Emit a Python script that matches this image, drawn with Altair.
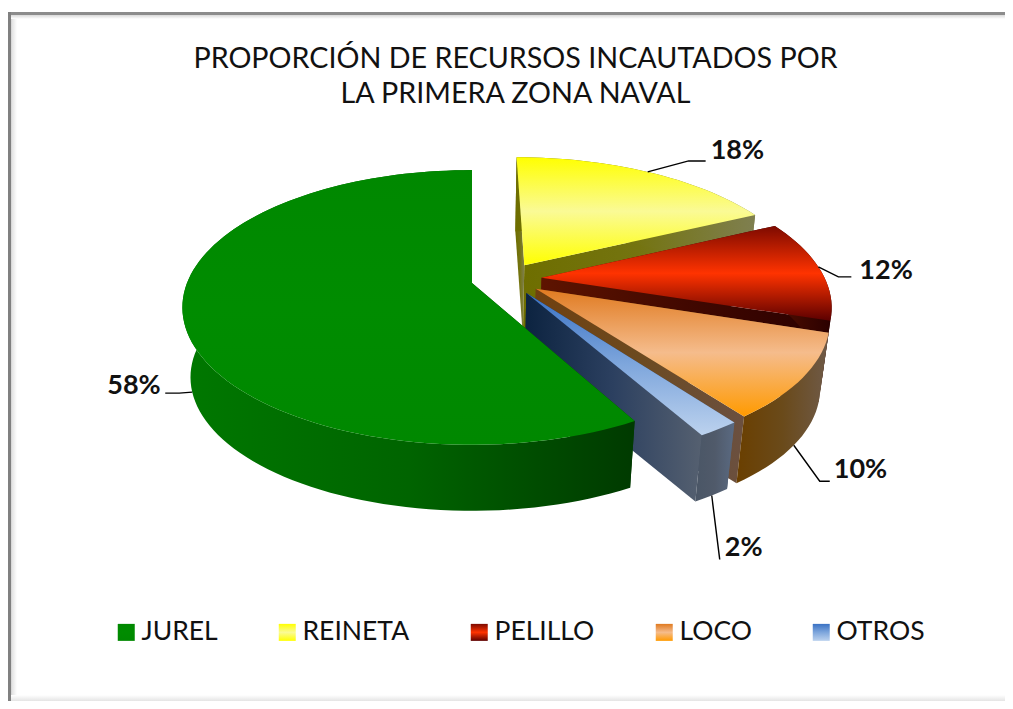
import math
import altair as alt

# ---------- values ----------
categories = ["JUREL", "REINETA", "PELILLO", "LOCO", "OTROS"]
shares = [58, 18, 12, 10, 2]
title_lines = ["PROPORCIÓN DE  RECURSOS INCAUTADOS POR", "LA PRIMERA  ZONA NAVAL"]
label_texts = ["58%", "18%", "12%", "10%", "2%"]

# ---------- look of each slice ----------
top_stops = {
    "JUREL": ["#008800", "#008c00", "#008800"],
    "REINETA": ["#ffff00", "#fafa96", "#ffff00"],
    "PELILLO": ["#7d0a00", "#ff3300", "#5c0000"],
    "LOCO": ["#e07a20", "#f5bc8c", "#ff9a00"],
    "OTROS": ["#3a72c4", "#7ea6dc", "#bcd2ee"],
}
rim_stops = {
    "JUREL": ["#007800", "#006400", "#003a00"],
    "REINETA": ["#6e6e00", "#747410", "#7f7f50"],
    "PELILLO": ["#5a1000", "#400800", "#2a0000"],
    "LOCO": ["#6a3f00", "#6a4a1a", "#6f5a48"],
    "OTROS": ["#4a5666", "#505a6a", "#5a6a82"],
}
wall_stops = {
    "JUREL": ["#003a00", "#003a00", "#003a00"],
    "REINETA": ["#6e6e00", "#747410", "#7f7f50"],
    "PELILLO": ["#5e1400", "#420800", "#2a0000"],
    "LOCO": ["#70400f", "#6c4a20", "#6b5040"],
    "OTROS": ["#0c2340", "#2c4060", "#556070"],
}
paint_order = ["REINETA", "PELILLO", "LOCO", "OTROS", "JUREL"]

# ---------- perspective of the tilted disc ----------
APEX_X, APEX_Y = 472, 283
RX, RY, P = 285, 133, 0.178
SHRINK, DROP = 0.972, 70.5
EXPLODE = 0.125
START = 151.2

angles = {}
a = START
for name, share in zip(categories, shares):
    angles[name] = (a, a + share * 3.6)
    a += share * 3.6


def unit(deg):
    r = math.radians(deg)
    return math.sin(r), -math.cos(r)


# the disc centre, seen from the first slice's apex
_b = unit(sum(angles["JUREL"]) / 2)
CU, CV = -_b[0] * EXPLODE, -_b[1] * EXPLODE


def to_px(u, v, level):
    w = 1 - P * v
    k = 1 + (SHRINK - 1) * level
    return [APEX_X + k * RX * u / w, APEX_Y + DROP * level + k * RY * v / w]


def origin(name):
    b = unit(sum(angles[name]) / 2)
    return CU + b[0] * EXPLODE, CV + b[1] * EXPLODE


def edge(name, deg, level):
    ou, ov = origin(name)
    d = unit(deg)
    return to_px(ou + d[0], ov + d[1], level)


def arc(name, level):
    a0, a1 = angles[name]
    n = max(4, int((a1 - a0) / 2))
    return [edge(name, a0 + (a1 - a0) * i / n, level) for i in range(n + 1)]


def feature(name, ring):
    return {
        "type": "Feature",
        "properties": {"name": name},
        "geometry": {"type": "Polygon", "coordinates": [ring + [ring[0]]]},
    }


def wedge(name):
    ou, ov = origin(name)
    return feature(name, [to_px(ou, ov, 0)] + arc(name, 0))


def rim(name):
    return feature(name, arc(name, 0) + arc(name, 1)[::-1])


def wall(name, deg):
    ou, ov = origin(name)
    return feature(
        name,
        [to_px(ou, ov, 0), edge(name, deg, 0), edge(name, deg, 1), to_px(ou, ov, 1)],
    )


def stops(colors):
    return [{"offset": i / (len(colors) - 1), "color": c} for i, c in enumerate(colors)]


def gradient(colors, horizontal):
    return {
        "gradient": "linear",
        "x1": 0,
        "y1": 0,
        "x2": 1 if horizontal else 0,
        "y2": 0 if horizontal else 1,
        "stops": stops(colors),
    }


def gradient_expr(colors):
    s = ",".join("{offset:%g,color:'%s'}" % (i / (len(colors) - 1), c) for i, c in enumerate(colors))
    return "{gradient:'linear',x1:0,y1:0,x2:0,y2:1,stops:[%s]}" % s


PROJ = dict(type="identity", scale=1, translate=[-8, -8])
color = alt.Color(
    "properties.name:N",
    sort=None,
    scale=alt.Scale(
        domain=categories,
        range=[{"expr": gradient_expr(top_stops[c])} for c in categories],
    ),
    legend=alt.Legend(
        title=None,
        orient="none",
        legendX=105,
        legendY=611,
        direction="horizontal",
        columns=5,
        symbolType="square",
        symbolSize=289,
        symbolStrokeWidth=0,
        labelFont="Lato",
        labelFontSize=26.5,
        labelColor="#111111",
        labelOffset=2,
        labelLimit=300,
        columnPadding=56,
        padding=0,
    ),
)


def shape(features, fill=None):
    mark = alt.Chart(alt.Data(values=features))
    if fill is None:
        return mark.mark_geoshape(strokeWidth=0).encode(color=color).project(**PROJ)
    return mark.mark_geoshape(fill=fill, strokeWidth=0, stroke=None).project(**PROJ)


layers = []

# picture frame
layers.append(shape([feature("f", [[8, 12], [17, 12], [17, 701], [8, 701]])],
                    gradient(["#a8a8a8", "#e6e6e6", "#ffffff"], True)))
layers.append(shape([feature("f", [[8, 14], [1005, 14], [1005, 19], [8, 19]])],
                    gradient(["#cfcfcf", "#ffffff"], False)))
layers.append(shape([feature("f", [[8, 12], [1005, 12], [1005, 15], [8, 15]])], "#8c8c8c"))
layers.append(shape([feature("f", [[8, 12], [11, 12], [11, 701], [8, 701]])], "#808080"))
layers.append(shape([feature("f", [[11, 695], [1005, 695], [1005, 701], [11, 701]])],
                    gradient(["#ffffff", "#e4e4e4"], False)))

# slices, back to front
for name in paint_order:
    a0, a1 = angles[name]
    layers.append(shape([wall(name, a0)], gradient(wall_stops[name], True)))
    layers.append(shape([wall(name, a1)], gradient(wall_stops[name], True)))
    layers.append(shape([rim(name)], gradient(rim_stops[name], True)))
    layers.append(shape([wedge(name)]))

# leader lines and value labels
anchor_fraction = {"JUREL": 0.49, "REINETA": 0.5, "PELILLO": 0.47, "LOCO": 0.5, "OTROS": 0.5}
anchor_level = {"JUREL": 1, "REINETA": 0, "PELILLO": 0, "LOCO": 1, "OTROS": 1}
leader_bends = {
    "JUREL": [(-13, 1), (-27, 1)],
    "REINETA": [(41, -11), (58, -11)],
    "PELILLO": [(20, 10), (33, 10)],
    "LOCO": [(26, 36), (36, 36)],
    "OTROS": [(8, 64)],
}
text_offset = {
    "JUREL": (-58, 1),
    "REINETA": (5, -2),
    "PELILLO": (8, 2),
    "LOCO": (4, -3),
    "OTROS": (5, -3),
}

leader_rows, label_rows = [], []
for name, text in zip(categories, label_texts):
    a0, a1 = angles[name]
    x, y = edge(name, a0 + (a1 - a0) * anchor_fraction[name], anchor_level[name])
    pts = [(x, y)] + [(x + dx, y + dy) for dx, dy in leader_bends[name]]
    for i, (px, py) in enumerate(pts):
        leader_rows.append({"name": name, "i": i, "lon": px, "lat": py})
    ex, ey = pts[-1]
    tx, ty = text_offset[name]
    label_rows.append({"text": text, "lon": ex + tx, "lat": ey + ty})

layers.append(
    alt.Chart(alt.Data(values=leader_rows))
    .mark_line(color="#000000", strokeWidth=1.4)
    .encode(longitude="lon:Q", latitude="lat:Q", detail="name:N", order="i:Q")
    .project(**PROJ)
)
layers.append(
    alt.Chart(alt.Data(values=label_rows))
    .mark_text(font="Lato", fontSize=27, fontWeight="bold", align="left", baseline="alphabetic", color="#111111")
    .encode(longitude="lon:Q", latitude="lat:Q", text="text:N")
    .project(**PROJ)
)

chart = (
    alt.layer(*layers)
    .properties(
        width=997,
        height=693,
        padding=0,
        autosize=alt.AutoSizeParams(type="none"),
        background="#ffffff",
        title=alt.TitleParams(
            text=title_lines,
            font="Lato",
            fontSize=28.7,
            fontWeight="normal",
            color="#111111",
            anchor="middle",
            lineHeight=35,
            offset=-101,
            dx=9,
        ),
    )
    .configure_view(stroke=None)
)

chart.save("out.html", embed_options={"renderer": "svg", "actions": False})
